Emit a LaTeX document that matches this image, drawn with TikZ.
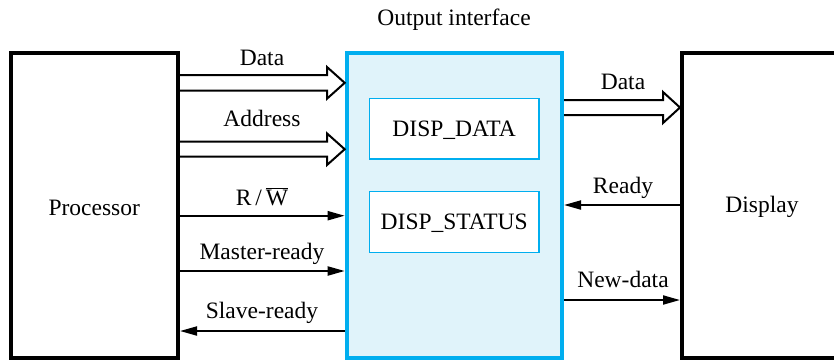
\documentclass[tikz,border=0pt]{standalone}
\usepackage{fontspec}
\setmainfont{Liberation Serif}
\usetikzlibrary{arrows.meta}
\definecolor{cyanline}{RGB}{0,174,239}
\definecolor{cyanfill}{RGB}{224,243,250}
\begin{document}
\begin{tikzpicture}[x=1pt,y=-1pt,
  every node/.style={font=\fontsize{23.5}{28}\selectfont, inner sep=0pt},
  bigbox/.style={draw=black, line width=4pt, fill=white},
  ifbox/.style={draw=cyanline, line width=4pt, fill=cyanfill},
  regbox/.style={draw=cyanline, line width=1.5pt, fill=white, text height=15.6pt, text depth=0pt},
  lbl/.style={anchor=base},
  sig/.style={draw, line width=2pt, -{Triangle[length=17pt,width=9pt]}},
  bus/.style={draw, line width=2pt, line join=miter, fill=white}]
\useasboundingbox (0,0) rectangle (834,360);
% boxes
\node[bigbox, minimum width=167.5pt, minimum height=305pt] (proc) at (94.25,205) {};
\node[ifbox, minimum width=215.3pt, minimum height=305pt] (iface) at (454.35,205) {};
\node[bigbox, minimum width=160pt, minimum height=305pt] (disp) at (762,205) {};
\node[regbox, minimum width=169.7pt, minimum height=60.3pt] (dd) at (454.2,128.6) {DISP\_DATA};
\node[regbox, minimum width=169.7pt, minimum height=61.3pt] (ds) at (454.2,222) {DISP\_STATUS};
% texts
\node[lbl] (title) at (454,25) {Output interface};
\node[lbl] (proct) at (94.25,215) {Processor};
\node[lbl] (dispt) at (762,212) {Display};
% buses
\draw[bus] (proc.east |- 0,75) -- (327,75) -- (327,67) -- (iface.west |- 0,82.85)
  -- (327,98.7) -- (327,90.7) -- (proc.east |- 0,90.7);
\draw[bus] (proc.east |- 0,141.7) -- (327,141.7) -- (327,133.4) -- (iface.west |- 0,149.2)
  -- (327,165) -- (327,156.7) -- (proc.east |- 0,156.7);
\draw[bus] (iface.east |- 0,100) -- (663,100) -- (663,92) -- (disp.west |- 0,107.5)
  -- (663,123) -- (663,115) -- (iface.east |- 0,115);
% signals
\draw[sig] (proc.east |- 0,215.7) -- (iface.west |- 0,215.7);
\draw[sig] (proc.east |- 0,271) -- (iface.west |- 0,271);
\draw[sig] (iface.west |- 0,331) -- (proc.east |- 0,331);
\draw[sig] (disp.west |- 0,205) -- (iface.east |- 0,205);
\draw[sig] (iface.east |- 0,300) -- (disp.west |- 0,300);
% labels
\node[lbl] (ldata) at (262,65) {Data};
\node[lbl] (laddr) at (262,126) {Address};
\node[lbl] (lrw) at (262,205) {R\,/\,$\overline{\hbox{W}}$};
\node[lbl] (lmr) at (262,259) {Master-ready};
\node[lbl] (lsr) at (262,318) {Slave-ready};
\node[lbl] (rdata) at (623,89) {Data};
\node[lbl] (rready) at (623,193) {Ready};
\node[lbl] (rnew) at (623,287) {New-data};
\end{tikzpicture}
\end{document}
